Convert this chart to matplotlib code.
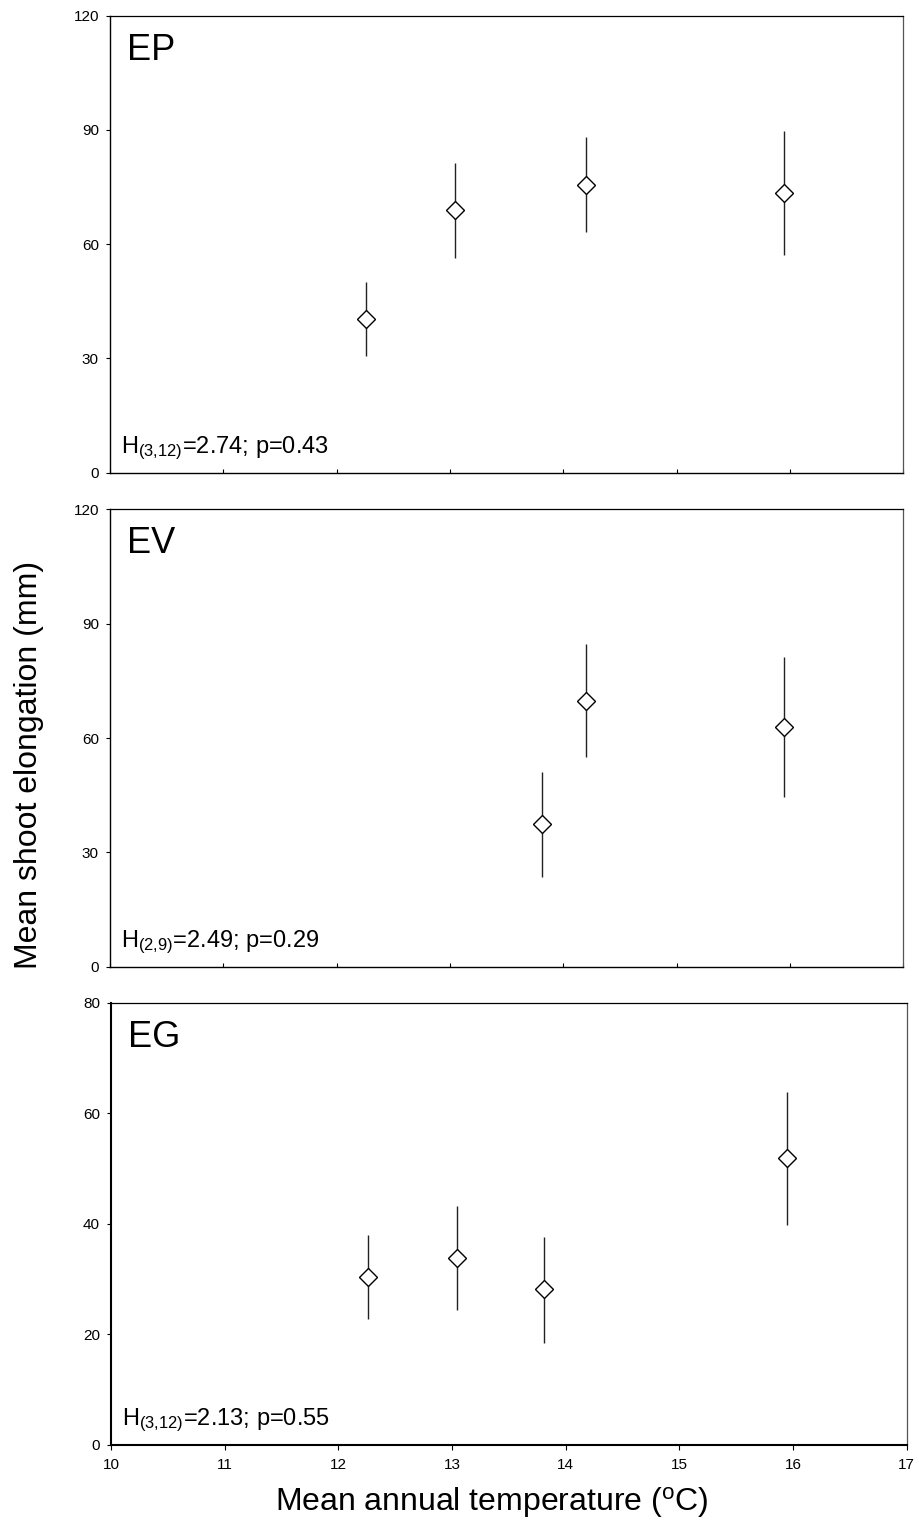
import matplotlib
matplotlib.use("Agg")
import matplotlib.pyplot as plt

plt.rcParams['font.family'] = ['Liberation Sans', 'DejaVu Sans']
plt.rcParams['mathtext.default'] = 'regular'

# Mean annual temperature of each site (degrees C)
temp_ep = [12.26, 13.04, 14.20, 15.95]
temp_ev = [13.81, 14.20, 15.95]
temp_eg = [12.26, 13.04, 13.81, 15.95]

# Mean shoot elongation (mm) with lower / upper error-bar ends
mean_ep = [40.3, 68.9, 75.5, 73.4]
low_ep = [30.6, 56.3, 63.3, 57.2]
high_ep = [50.1, 81.4, 88.1, 89.7]

mean_ev = [37.4, 69.7, 62.9]
low_ev = [23.5, 54.9, 44.5]
high_ev = [51.0, 84.6, 81.2]

mean_eg = [30.4, 33.9, 28.2, 51.9]
low_eg = [22.8, 24.4, 18.4, 39.8]
high_eg = [38.0, 43.3, 37.7, 63.8]

panel_labels = ["EP", "EV", "EG"]
stat_texts = [r"H$_{(3{,}12)}$=2.74; p=0.43",
              r"H$_{(2{,}9)}$=2.49; p=0.29",
              r"H$_{(3{,}12)}$=2.13; p=0.55"]
y_limits = [120, 120, 80]
y_ticks = [[0, 30, 60, 90, 120], [0, 30, 60, 90, 120], [0, 20, 40, 60, 80]]
x_ticks = [10, 11, 12, 13, 14, 15, 16, 17]

W, H = 920, 1540
fig = plt.figure(figsize=(W / 100, H / 100), dpi=100)

# axes boxes in pixels: left, top, right, bottom
boxes = [(110, 15.7, 903.3, 472.7),
         (110, 509.3, 903.3, 966.7),
         (111, 1002.7, 906.7, 1445)]

series = [(temp_ep, mean_ep, low_ep, high_ep),
          (temp_ev, mean_ev, low_ev, high_ev),
          (temp_eg, mean_eg, low_eg, high_eg)]

for i, (box, (tx, m, lo, hi)) in enumerate(zip(boxes, series)):
    l, t, r, b = box
    ax = fig.add_axes([l / W, 1 - b / H, (r - l) / W, (b - t) / H])
    yerr = [[mm - a for mm, a in zip(m, lo)], [c - mm for mm, c in zip(m, hi)]]
    ax.errorbar(tx, m, yerr=yerr, fmt='none', ecolor='#222222',
                elinewidth=1.0, capsize=0, zorder=2)
    ax.plot(tx, m, linestyle='none', marker='D', markersize=9,
            markerfacecolor='white', markeredgecolor='black',
            markeredgewidth=1.0, zorder=3)
    ax.set_xlim(10, 17)
    ax.set_ylim(0, y_limits[i])
    ax.set_xticks(x_ticks)
    ax.set_yticks(y_ticks[i])
    ax.tick_params(axis='y', direction='out', length=3, width=0.8,
                   labelsize=11, pad=5)
    if i < 2:
        ax.tick_params(axis='x', direction='in', length=3, width=0.8,
                       labelbottom=False)
        lw_main = 1.0
    else:
        ax.tick_params(axis='x', direction='out', length=3.6, width=0.8,
                       labelsize=11, pad=6)
        lw_main = 1.5
    ax.spines['left'].set_linewidth(lw_main)
    ax.spines['bottom'].set_linewidth(lw_main)
    ax.spines['top'].set_linewidth(0.9)
    ax.spines['right'].set_linewidth(0.9)
    ax.spines['right'].set_color('#555555')

    ax.annotate(panel_labels[i], xy=(0, 1), xycoords='axes fraction',
                xytext=(12.5, -44 * 0.72), textcoords='offset points',
                fontsize=26, va='baseline', ha='left')
    ax.annotate(stat_texts[i], xy=(0, 0), xycoords='axes fraction',
                xytext=(8, 19.5 * 0.72), textcoords='offset points',
                fontsize=17, va='baseline', ha='left')

fig.text(29 / W, 1 - 765 / H, "Mean shoot elongation (mm)", rotation=90,
         fontsize=23, ha='center', va='center')
fig.text(492 / W, 1 - 1503 / H, r"Mean annual temperature ($^{o}$C)",
         fontsize=23, ha='center', va='center')

fig.savefig("out.png", dpi=100)
